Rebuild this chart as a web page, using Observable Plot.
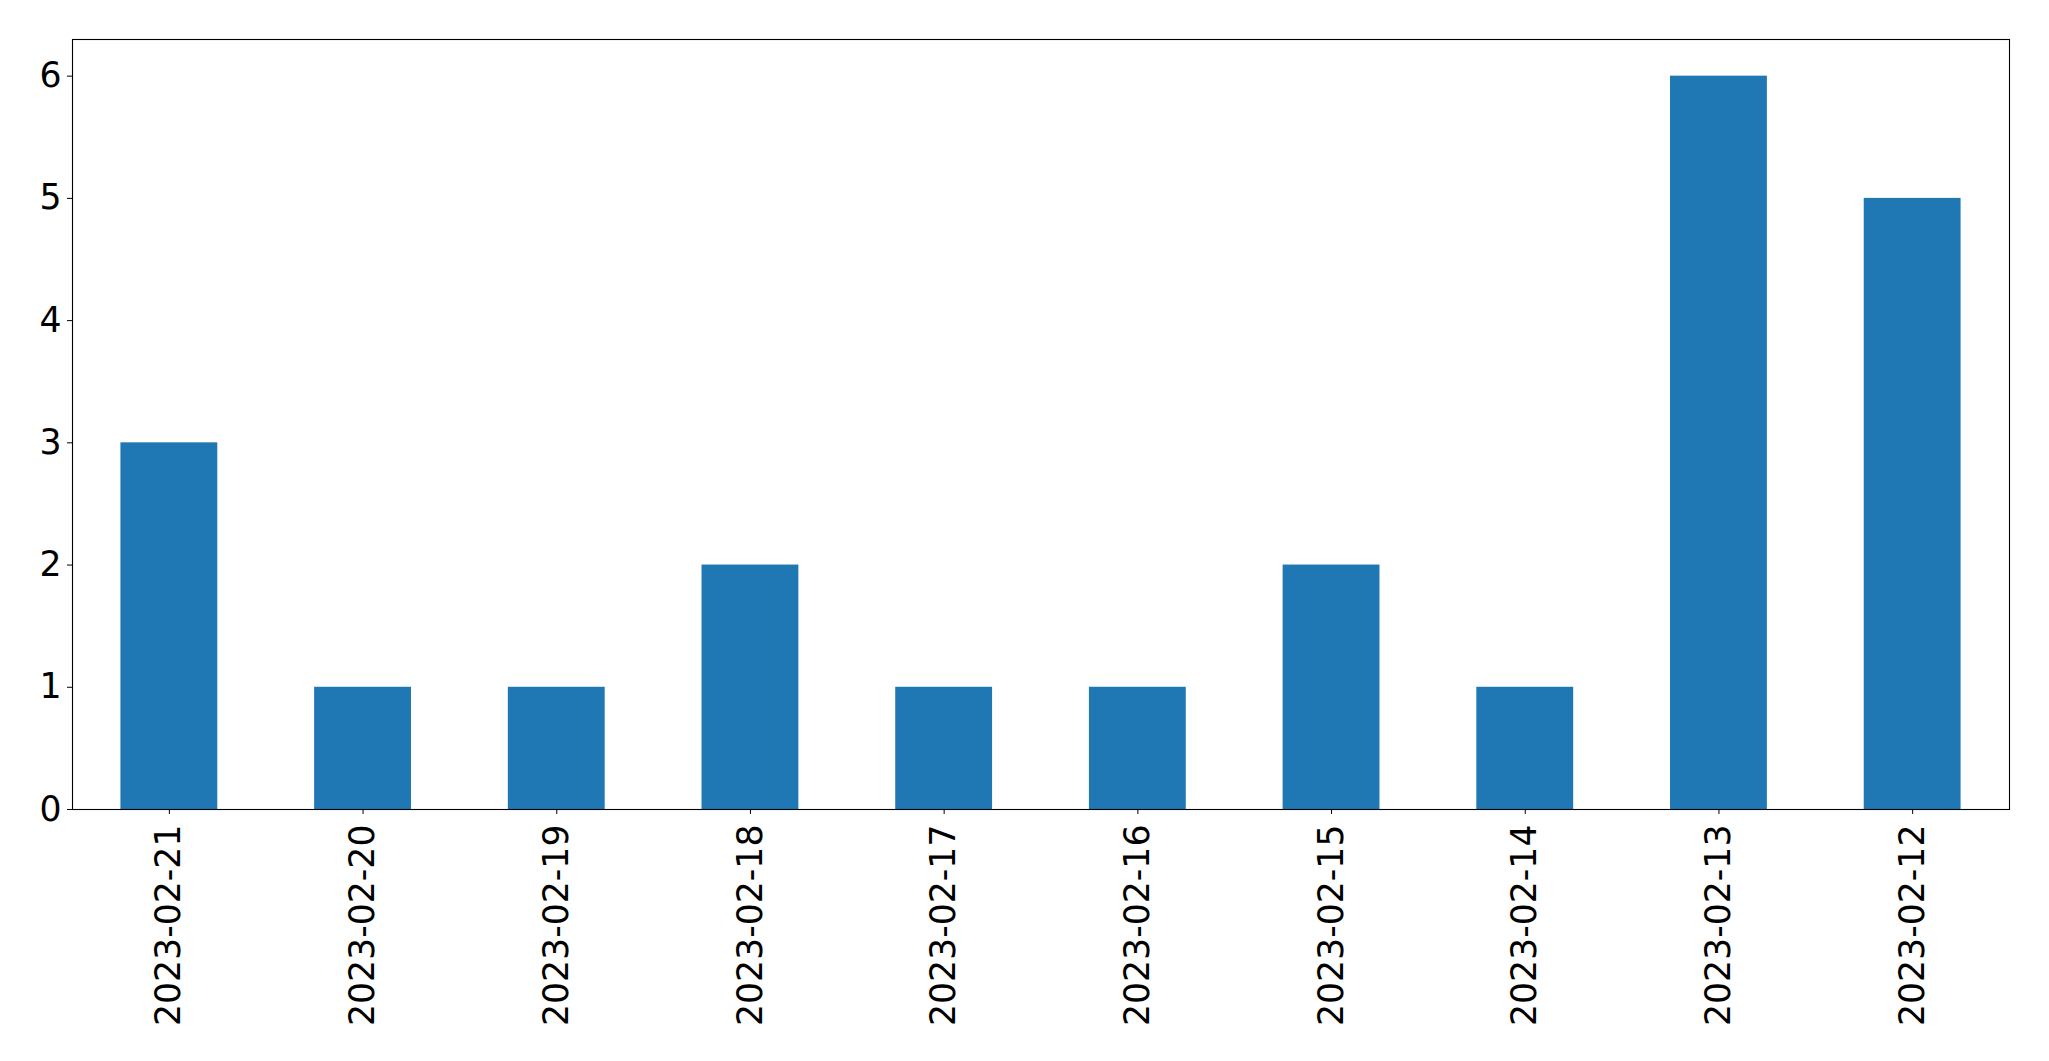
<!DOCTYPE html>
<html>
<head>
<meta charset="utf-8">
<script src="https://cdn.jsdelivr.net/npm/d3@7"></script>
<script src="https://cdn.jsdelivr.net/npm/@observablehq/plot@0.6"></script>
<style>
  html, body { margin: 0; padding: 0; background: #fff; }
  #chart svg { display: block; }
</style>
</head>
<body>
<div id="chart"></div>
<script>
const dates = ["2023-02-21","2023-02-20","2023-02-19","2023-02-18","2023-02-17","2023-02-16","2023-02-15","2023-02-14","2023-02-13","2023-02-12"];
const counts = [3, 1, 1, 2, 1, 1, 2, 1, 6, 5];
const yTicks = [0, 1, 2, 3, 4, 5, 6];

const data = dates.map((d, i) => ({date: d, count: counts[i]}));

const fontSize = 34.7;
const chart = Plot.plot({
  width: 2049,
  height: 1061,
  marginLeft: 72,
  marginRight: 40,
  marginTop: 39,
  marginBottom: 252,
  style: {fontFamily: "'DejaVu Sans', sans-serif", fontSize: fontSize + "px", background: "#fff", color: "#000"},
  x: {domain: dates, paddingInner: 0.5, paddingOuter: 0.25, round: false, label: null},
  y: {domain: [0, 6.3], label: null},
  marks: [
    Plot.barY(data, {x: "date", y: "count", fill: "#1f77b4"}),
    Plot.axisY({ticks: yTicks, tickSize: 5, tickPadding: 6, fontSize: fontSize, label: null, tickFormat: d => String(d)}),
    Plot.axisX({tickSize: 5, tickPadding: 10, tickRotate: -90, fontSize: fontSize, label: null}),
    Plot.frame({stroke: "#000", strokeWidth: 1.1})
  ]
});
document.getElementById("chart").appendChild(chart);
</script>
</body>
</html>
